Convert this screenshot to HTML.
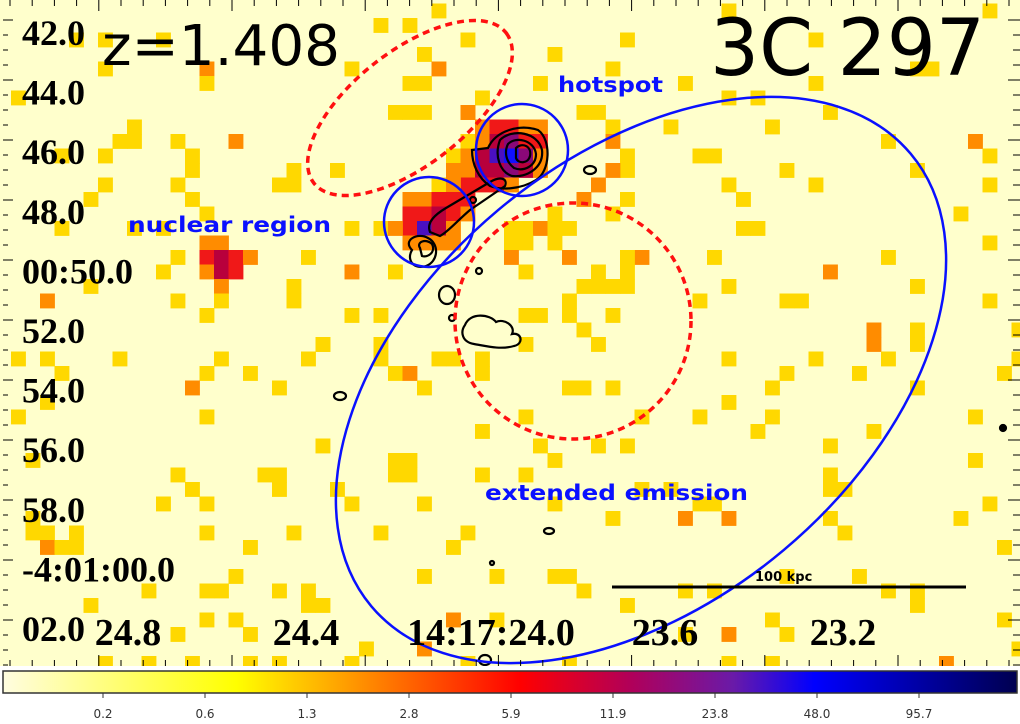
<!DOCTYPE html>
<html><head><meta charset="utf-8"><style>
html,body{margin:0;padding:0;background:#fff;width:1020px;height:724px;overflow:hidden;}
svg{display:block;}
</style></head><body>
<svg id="chart" width="1020" height="724" viewBox="0 0 1020 724" xmlns="http://www.w3.org/2000/svg">
<defs>
<linearGradient id="cbgrad" x1="0" x2="1" y1="0" y2="0">
<stop offset="0" stop-color="#fffde0"/><stop offset="0.23" stop-color="#ffff00"/><stop offset="0.33" stop-color="#ffa500"/>
<stop offset="0.51" stop-color="#ff0000"/><stop offset="0.62" stop-color="#b0005a"/><stop offset="0.72" stop-color="#6a1aa8"/>
<stop offset="0.80" stop-color="#0000ff"/><stop offset="1" stop-color="#000050"/>
</linearGradient>
</defs>
<rect x="0" y="0" width="1020" height="666" fill="#ffffcc"/>
<g id="pixels"></g>
<g id="contours" fill="none" stroke="#000" stroke-width="2.2">
<path d="M412,250 C402,240 418,232 428,238 C440,244 438,262 426,266 C414,270 406,260 412,250 Z"/>
<path d="M420,248 C416,242 426,238 432,244 C436,252 428,258 422,256 Z"/>
<path d="M430,232 C426,222 436,214 446,208 L490,182 C500,176 508,178 505,186 L470,210 C458,220 448,232 440,236 Z"/>
<path d="M472,150 L488,148 C496,130 520,124 538,130 C552,140 550,172 536,180 C520,190 500,190 490,186 C478,178 472,164 472,150 Z"/>
<path d="M500,140 C512,128 538,132 542,150 C544,168 526,178 512,176 C500,172 494,156 500,140 Z"/>
<path d="M508,144 C516,136 534,140 536,154 C536,166 524,172 514,168 C506,162 504,152 508,144 Z"/>
<path d="M516,148 C522,142 532,146 530,156 C528,164 518,164 516,158 Z"/>
<ellipse cx="447" cy="295" rx="8" ry="9"/>
<ellipse cx="452" cy="318" rx="3" ry="3"/>
<path d="M465,325 C470,312 490,314 496,322 C504,318 516,326 512,334 C522,332 524,344 514,346 C500,350 486,346 474,344 C462,342 460,332 465,325 Z"/>
<ellipse cx="340" cy="396" rx="6" ry="4"/>
<ellipse cx="590" cy="170" rx="6" ry="4"/>
<ellipse cx="479" cy="271" rx="3" ry="3"/>
<ellipse cx="473" cy="200" rx="3" ry="3"/>
<ellipse cx="549" cy="531" rx="5" ry="3"/>
<ellipse cx="492" cy="563" rx="2" ry="2"/>
<ellipse cx="485" cy="660" rx="6" ry="5"/>
<circle cx="1003" cy="428" r="3" fill="#000"/>
</g>
<ellipse cx="410" cy="108" rx="122" ry="57" transform="rotate(-38 410 108)" fill="none" stroke="#ff1010" stroke-width="3.5" stroke-dasharray="7,5"/>
<circle cx="573" cy="321" r="118" fill="none" stroke="#ff1010" stroke-width="3.5" stroke-dasharray="7,5"/>
<circle cx="522" cy="150" r="46" fill="none" stroke="#0a10ff" stroke-width="2.5"/>
<circle cx="429" cy="222" r="45" fill="none" stroke="#0a10ff" stroke-width="2.5"/>
<ellipse cx="641" cy="380" rx="352" ry="222" transform="rotate(-40 641 380)" fill="none" stroke="#0a10ff" stroke-width="2.5"/>
<g id="ticks" stroke="#000" stroke-width="1"></g>
<g id="ylabels" font-family="Liberation Serif, serif" font-weight="bold" font-size="36" fill="#000"></g>
<g id="xlabels" font-family="Liberation Serif, serif" font-weight="bold" font-size="38" fill="#000"></g>
<text x="102" y="65" font-family="DejaVu Sans, sans-serif" font-size="56" textLength="238" lengthAdjust="spacingAndGlyphs" fill="#000">z=1.408</text>
<text x="710" y="75" font-family="DejaVu Sans, sans-serif" font-size="78" textLength="275" lengthAdjust="spacingAndGlyphs" fill="#000">3C 297</text>
<text x="558" y="92" font-family="DejaVu Sans, sans-serif" font-weight="bold" font-size="21" textLength="105" lengthAdjust="spacingAndGlyphs" fill="#0a10ff">hotspot</text>
<text x="128" y="232" font-family="DejaVu Sans, sans-serif" font-weight="bold" font-size="21" textLength="203" lengthAdjust="spacingAndGlyphs" fill="#0a10ff">nuclear region</text>
<text x="485" y="500" font-family="DejaVu Sans, sans-serif" font-weight="bold" font-size="21" textLength="263" lengthAdjust="spacingAndGlyphs" fill="#0a10ff">extended emission</text>
<line x1="612" y1="587" x2="966" y2="587" stroke="#000" stroke-width="3"/>
<text x="755" y="581" font-family="DejaVu Sans, sans-serif" font-weight="bold" font-size="13" fill="#000">100 kpc</text>
<rect x="0" y="666" width="1020" height="58" fill="#fff"/>
<rect x="3" y="671" width="1014" height="22" fill="url(#cbgrad)" stroke="#333" stroke-width="1.5"/>
<g id="cbticks" font-family="DejaVu Sans, sans-serif" font-size="12" fill="#333"></g>
</svg>
<script>
const pixelData = "65,30,1;95,32,1;153,32,1;95,60,1;198,60,2;198,75,1;7,90,1;347,60,1;373,17,1;403,17,1;433,3,1;462,32,1;418,47,1;433,60,2;403,75,1;418,75,1;388,105,1;403,105,1;418,105,1;462,105,2;477,90,1;125,120,1;110,135,1;125,135,1;170,135,1;227,135,2;95,150,1;50,150,1;183,150,1;183,163,1;285,163,1;270,178,1;285,178,1;330,163,1;95,178,1;170,178,1;82,193,1;183,193,1;198,208,1;52,222,1;123,222,1;153,222,1;347,222,1;373,222,1;198,237,2;213,237,2;170,252,1;198,252,3;213,252,4;227,252,3;242,252,2;198,267,2;213,267,4;227,267,3;155,267,1;213,282,2;213,297,1;80,282,1;35,297,2;170,297,1;285,282,1;285,297,1;302,252,1;347,267,2;388,267,1;198,312,1;347,312,1;373,312,1;317,340,1;" +
"728,3,1;625,32,1;550,47,1;802,32,1;610,60,1;537,75,1;683,75,1;813,75,1;903,60,1;918,60,1;977,3,1;727,90,1;757,90,1;580,105,1;595,105,1;828,105,1;610,120,1;770,120,1;667,120,1;962,135,2;888,135,1;610,135,2;623,150,1;623,163,1;610,163,2;697,150,1;712,150,1;977,150,1;785,163,1;903,163,1;595,178,2;727,178,1;813,178,1;977,178,1;580,193,2;625,193,1;740,193,1;947,208,1;610,208,1;550,208,1;510,223,1;523,223,1;537,223,2;550,223,1;565,223,1;740,223,1;755,223,1;977,237,1;510,237,1;523,237,1;550,237,1;510,252,2;565,252,2;638,252,2;625,252,1;712,252,1;888,252,1;520,267,1;595,267,1;625,267,1;830,267,2;580,282,1;595,282,1;610,282,1;625,282,1;727,282,1;903,282,1;565,297,1;697,297,1;785,297,1;800,297,1;977,297,1;520,312,1;535,312,1;565,312,1;610,312,1;580,327,1;873,327,2;903,327,1;520,340,1;595,340,1;1007,327,1;" +
"7,355,1;35,355,1;110,355,1;213,355,1;302,355,1;315,340,1;373,330,1;373,345,1;433,355,1;448,355,1;477,355,1;477,370,1;52,370,1;198,370,1;242,370,1;183,385,2;270,385,1;388,370,1;403,370,2;418,385,1;35,400,1;7,415,1;198,415,1;477,430,1;315,443,1;22,458,1;388,458,1;403,458,1;388,472,1;403,472,1;477,473,1;170,473,1;257,473,1;272,473,1;272,488,1;183,488,1;330,488,1;155,503,1;198,503,1;345,503,1;418,503,1;22,517,1;22,532,1;35,532,1;65,532,1;35,547,2;50,547,1;65,547,1;198,532,1;285,532,1;373,532,1;462,532,1;242,547,1;448,547,1;227,562,1;418,562,1;140,577,1;198,577,1;213,577,1;270,577,1;302,577,1;302,592,1;315,592,1;80,592,1;198,607,1;227,607,1;448,607,2;492,607,1;170,620,1;242,620,1;360,635,1;418,635,2;95,650,1;140,650,1;183,650,1;242,650,1;272,650,1;345,650,1;462,650,1;492,562,1;" +
"873,330,2;903,330,1;1007,345,1;727,355,1;813,355,1;888,355,1;785,370,1;858,370,1;992,370,1;565,385,1;580,385,1;610,385,1;770,385,1;917,385,1;727,400,1;520,415,1;638,415,1;697,415,1;770,415,1;962,415,1;755,430,1;873,430,1;535,443,1;595,443,1;623,443,1;828,443,1;550,458,1;962,458,1;520,473,1;828,473,1;828,488,1;843,488,1;637,488,1;667,488,1;550,503,1;697,503,1;712,503,1;977,503,1;610,517,1;682,517,2;727,517,2;828,517,1;843,532,1;947,517,1;992,547,1;550,562,1;565,562,1;785,562,1;858,562,1;580,577,1;682,577,1;712,577,1;888,577,1;917,577,1;623,592,1;903,592,1;770,607,1;785,620,1;727,620,2;682,620,1;992,607,1;1007,635,1;565,650,1;727,650,1;770,650,1;932,650,2;" +
"446,150,1;461,135,1;432,180,1;417,193,2;403,193,2;461,165,2;446,165,2;461,105,2;475,120,2;490,120,3;504,120,3;518,120,2;533,120,2;475,135,2;490,135,4;504,135,5;518,135,3;533,135,3;461,150,2;475,150,4;490,150,6;504,150,7;518,150,5;533,150,2;475,165,4;490,165,4;504,165,5;518,165,4;533,165,2;461,180,3;475,180,3;490,180,3;504,180,2;446,180,2;432,193,3;446,193,3;461,193,3;417,208,3;432,208,4;446,208,3;461,208,2;403,208,3;403,223,3;417,223,6;432,223,4;446,223,2;388,223,2;403,238,2;417,238,2;432,238,2;446,238,2";
const levelColors = ["#ffffcc","#ffd800","#ff8c00","#f01818","#b8003c","#8a0878","#4a10c0","#1010ff"];
const yTickLabels = ["42.0","44.0","46.0","48.0","00:50.0","52.0","54.0","56.0","58.0","-4:01:00.0","02.0"];
const xTickLabels = ["24.8","24.4","14:17:24.0","23.6","23.2"];
const xTickCenters = [128,306,491,665,843];
const cbTickLabels = ["0.2","0.6","1.3","2.8","5.9","11.9","23.8","48.0","95.7"];
const NS="http://www.w3.org/2000/svg";
const P=14.5;
function mk(t,a){const e=document.createElementNS(NS,t);for(const k in a)e.setAttribute(k,a[k]);return e;}
const pg=document.getElementById('pixels');
pixelData.split(';').forEach(s=>{
  const v=s.split(',').map(Number);
  const c=Math.round((v[0]+3.5)/P), r=Math.round((v[1]-3.5)/P);
  const el=mk('rect',{x:(-3.5+c*P).toFixed(1),y:(3.5+r*P).toFixed(1),width:P+0.4,height:P+0.4,fill:levelColors[v[2]]});
  
  
  pg.appendChild(el);
});
const tg=document.getElementById('ticks');
for(let x=10;x<1020;x+=22.2){const major=Math.round((x-10)/22.2)%6===4;
  const t=mk('line',{x1:x.toFixed(1),y1:0,x2:x.toFixed(1),y2:major?11:6});
  
  
  tg.appendChild(t);
  const b=mk('line',{x1:x.toFixed(1),y1:666,x2:x.toFixed(1),y2:major?655:660});
  
  
  tg.appendChild(b);}
for(let y=20;y<666;y+=15){const major=Math.round((y-20)/15)%4===0;
  const t=mk('line',{x1:1020,y1:y,x2:major?1008:1013,y2:y});
  
  
  tg.appendChild(t);
  const l=mk('line',{x1:3,y1:y,x2:major?13:8,y2:y});
  
  
  tg.appendChild(l);}
const yg=document.getElementById('ylabels');
yTickLabels.forEach((s,i)=>{const t=mk('text',{x:22,y:45+i*59.6});t.textContent=s;
  
  
  yg.appendChild(t);});
const xg=document.getElementById('xlabels');
xTickLabels.forEach((s,i)=>{const t=mk('text',{x:xTickCenters[i],y:645,'text-anchor':'middle'});t.textContent=s;
  
  
  xg.appendChild(t);});
const cg=document.getElementById('cbticks');
cbTickLabels.forEach((s,i)=>{const x=103+i*102;
  const l=mk('line',{x1:x,y1:693,x2:x,y2:698,stroke:'#333'});
  
  
  cg.appendChild(l);
  const t=mk('text',{x:x,y:718,'text-anchor':'middle'});t.textContent=s;
  
  
  cg.appendChild(t);});
</script>
</body></html>
